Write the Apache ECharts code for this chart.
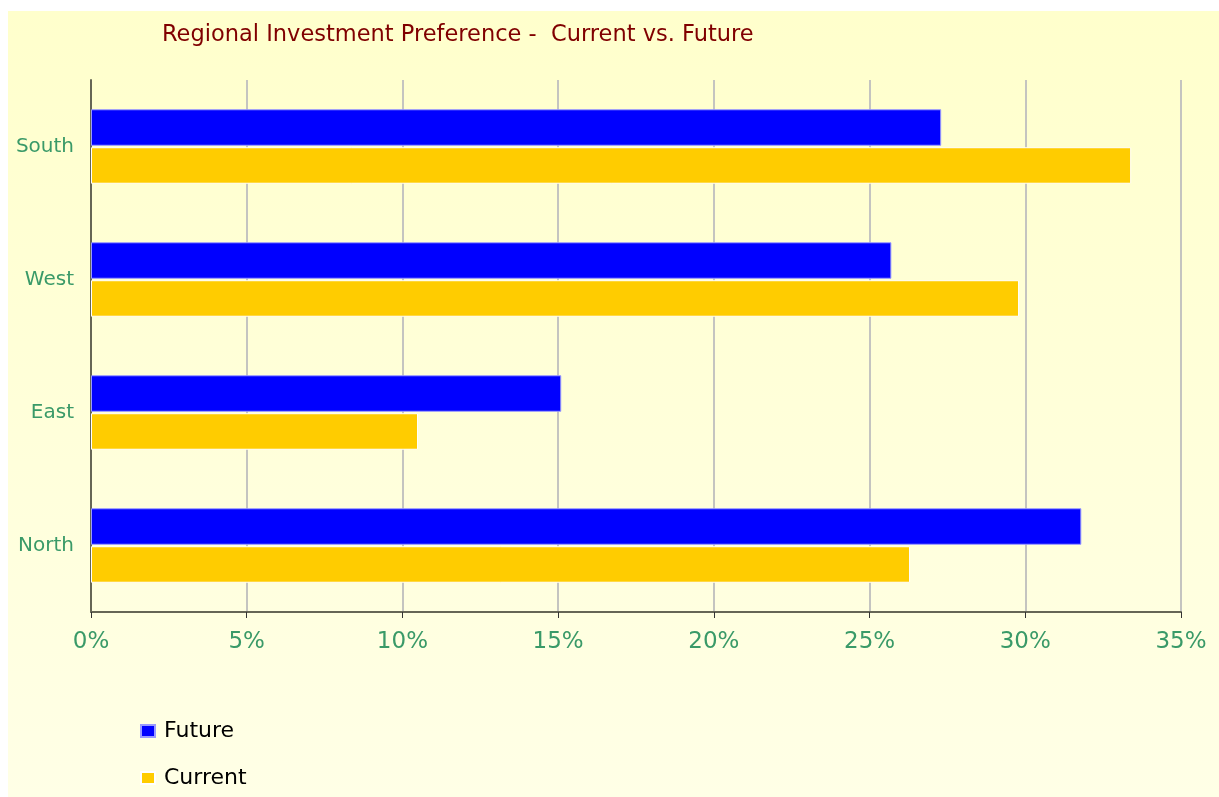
<!DOCTYPE html>
<html>
<head>
<meta charset="utf-8">
<script src="https://cdn.jsdelivr.net/npm/echarts@6/dist/echarts.min.js"></script>
<style>
  html, body { margin: 0; padding: 0; background: #fff; }
  #chart { width: 1219px; height: 797px; }
</style>
</head>
<body>
<div id="chart"></div>
<script>
// regions, bottom to top
var regions = ['North', 'East', 'West', 'South'];
var future = [31.8, 15.1, 25.7, 27.3];
var current = [26.3, 10.5, 29.8, 33.4];
var xTicks = [0, 5, 10, 15, 20, 25, 30, 35];

var green = '#3a9a68';
var font = 'DejaVu Sans';
var myChart = echarts.init(document.getElementById('chart'));

var option = {
    backgroundColor: '#ffffff',
    animation: false,
    graphic: [{
        type: 'rect',
        z: -10,
        shape: { x: 8, y: 11, width: 1211, height: 786 },
        style: {
            fill: {
                type: 'linear', x: 0, y: 0, x2: 0, y2: 1,
                colorStops: [
                    { offset: 0, color: '#ffffcc' },
                    { offset: 1, color: '#ffffe6' }
                ]
            }
        }
    }],
    title: {
        text: 'Regional Investment Preference -  Current vs. Future',
        left: 157,
        top: 19,
        textStyle: {
            color: '#800000',
            fontFamily: font,
            fontSize: 22.5,
            fontWeight: 'normal'
        }
    },
    legend: {
        orient: 'vertical',
        left: 135,
        top: 715,
        icon: 'rect',
        itemWidth: 14,
        itemHeight: 12,
        itemGap: 25,
        data: ['Future', 'Current'],
        textStyle: {
            color: '#000',
            fontFamily: font,
            fontSize: 22,
            padding: [0, 0, 0, 4]
        }
    },
    grid: {
        left: 91,
        right: 38,
        top: 80,
        bottom: 185
    },
    xAxis: {
        type: 'value',
        min: xTicks[0],
        max: xTicks[xTicks.length - 1],
        interval: 5,
        axisLine: { show: true, lineStyle: { color: '#666655', width: 2 } },
        axisTick: { show: true, length: 6, lineStyle: { color: '#333' } },
        axisLabel: {
            formatter: '{value}%',
            color: green,
            fontFamily: font,
            fontSize: 23,
            margin: 19
        },
        splitLine: { show: true, lineStyle: { color: '#c4c4c0', width: 2 } }
    },
    yAxis: {
        type: 'category',
        data: regions,
        axisLine: { show: true, lineStyle: { color: '#666655', width: 2 } },
        axisTick: { show: false },
        axisLabel: {
            color: green,
            fontFamily: font,
            fontSize: 20,
            margin: 17
        }
    },
    series: [{
        name: 'Future',
        type: 'bar',
        data: future,
        barGap: '4%',
        barCategoryGap: '44%',
        itemStyle: { color: '#0000ff', borderColor: '#9a9aff', borderWidth: 1 }
    }, {
        name: 'Current',
        type: 'bar',
        data: current,
        barGap: '4%',
        barCategoryGap: '44%',
        itemStyle: { color: '#ffcc00', borderColor: '#ffffff', borderWidth: 1 }
    }]
};
myChart.setOption(option);
</script>
</body>
</html>
